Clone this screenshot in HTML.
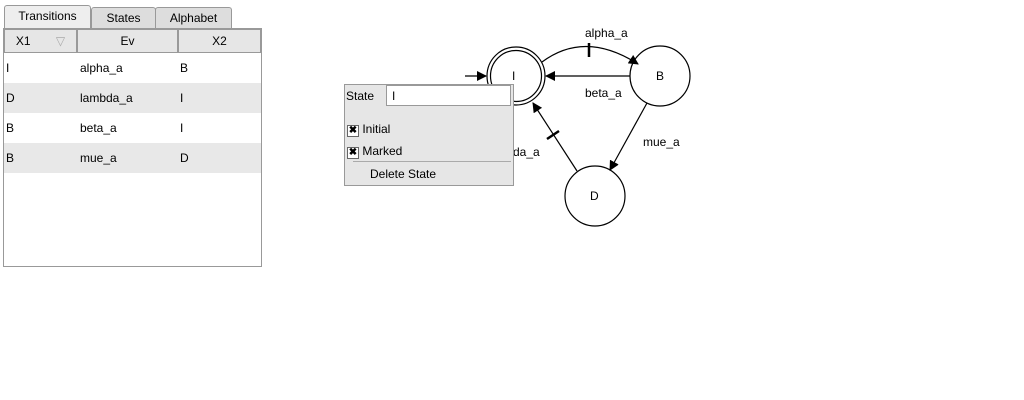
<!DOCTYPE html>
<html><head><style>
body{margin:0;width:1024px;height:400px;background:#fff;font-family:"Liberation Sans",sans-serif;font-size:12px;color:#000;position:relative;overflow:hidden}
.a{position:absolute}
.tab{position:absolute;top:7px;height:20px;border:1px solid #999;border-bottom:none;background:#ddd;text-align:center;line-height:20px;border-radius:3px 3px 0 0}
.hd{position:absolute;top:29px;height:22px;background:#e6e6e6;border:1px solid #999;text-align:center;line-height:22px}
.row{position:absolute;left:4px;width:257px;height:30px;line-height:30px}
.row span{position:absolute}
</style></head><body>
<div class="tab" style="left:4px;width:85px;top:5px;height:23px;background:#eee">Transitions</div>
<div class="tab" style="left:91px;width:63px">States</div>
<div class="tab" style="left:155px;width:75px">Alphabet</div>
<div class="a" style="left:3px;top:28px;width:257px;height:237px;border:1px solid #999"></div>
<div class="hd" style="left:4px;width:71px">X1 <span style="color:#aaa;margin-left:22px">▽</span></div>
<div class="hd" style="left:77px;width:99px">Ev</div>
<div class="hd" style="left:178px;width:81px">X2</div>
<div class="row" style="top:53px"><span style="left:2px">I</span><span style="left:76px">alpha_a</span><span style="left:176px">B</span></div>
<div class="row" style="top:83px;background:#e8e8e8"><span style="left:2px">D</span><span style="left:76px">lambda_a</span><span style="left:176px">I</span></div>
<div class="row" style="top:113px"><span style="left:2px">B</span><span style="left:76px">beta_a</span><span style="left:176px">I</span></div>
<div class="row" style="top:143px;background:#e8e8e8"><span style="left:2px">B</span><span style="left:76px">mue_a</span><span style="left:176px">D</span></div>
<svg class="a" style="left:0;top:0" width="1024" height="400">
<defs><marker id="m" markerWidth="10" markerHeight="10" refX="9" refY="5" orient="auto" markerUnits="userSpaceOnUse"><path d="M0,0L10,5L0,10z"/></marker></defs>
<g fill="none" stroke="#000" stroke-width="1.2">
<circle cx="516" cy="76" r="29" fill="#fff"/><circle cx="516" cy="76" r="25.5"/>
<circle cx="660" cy="76" r="30"/><circle cx="595" cy="196" r="30"/>
<path d="M465,76H486" marker-end="url(#m)"/>
<path d="M542,62Q585,30 638,64" marker-end="url(#m)"/>
<path d="M630,76H546" marker-end="url(#m)"/>
<path d="M647,103L610,170" marker-end="url(#m)"/>
<path d="M577,171L533,103" marker-end="url(#m)"/>
<path d="M589,43V57M547,139L559,131" stroke-width="2.5"/>
</g>
<g font-size="12" font-family="Liberation Sans,sans-serif">
<text x="585" y="37">alpha_a</text><text x="585" y="97">beta_a</text><text x="643" y="146">mue_a</text><text x="513" y="156">da_a</text>
<text x="512" y="80">I</text><text x="656" y="80">B</text><text x="590" y="200">D</text>
</g></svg>
<div class="a" style="left:344px;top:84px;width:168px;height:100px;background:#e6e6e6;border:1px solid #999">
<div class="a" style="left:1px;top:4px">State</div>
<div class="a" style="left:41px;top:0;width:125px;height:21px;background:#fff;border:1px solid #999;line-height:21px;padding-left:5px;box-sizing:border-box">I</div>
<div class="a" style="left:2px;top:37px"><span style="display:inline-block;width:10px;height:10px;border:1px solid #666;background:#fff;font-size:10px;line-height:10px;text-align:center;font-weight:bold">✖</span> Initial</div>
<div class="a" style="left:2px;top:59px"><span style="display:inline-block;width:10px;height:10px;border:1px solid #666;background:#fff;font-size:10px;line-height:10px;text-align:center;font-weight:bold">✖</span> Marked</div>
<div class="a" style="left:8px;top:76px;width:158px;border-top:1px solid #aaa"></div>
<div class="a" style="left:25px;top:82px">Delete State</div>
</div>
</body></html>
